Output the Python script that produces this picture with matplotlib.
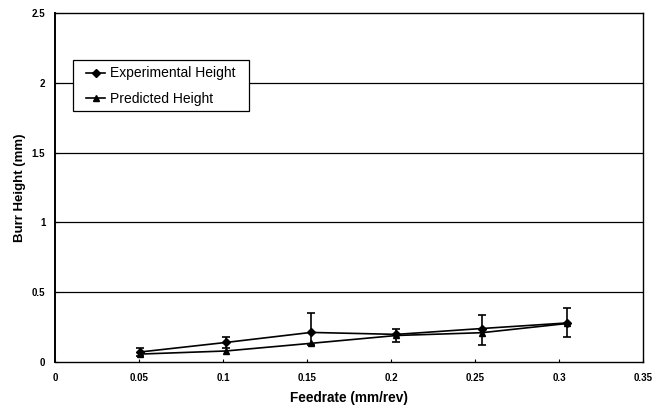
import numpy as np
import matplotlib.pyplot as plt
from matplotlib.patches import Rectangle

# feedrates (0.002 .. 0.012 in/rev converted to mm/rev)
feedrate = [0.0508, 0.1016, 0.1524, 0.2032, 0.254, 0.3048]
experimental = [0.072, 0.14, 0.212, 0.198, 0.24, 0.28]
predicted = [0.057, 0.079, 0.134, 0.19, 0.21, 0.276]
err_low = [0.03, 0.04, 0.09, 0.053, 0.12, 0.10]
err_high = [0.026, 0.04, 0.136, 0.038, 0.10, 0.108]

xticks = [0, 0.05, 0.1, 0.15, 0.2, 0.25, 0.3, 0.35]
xtick_labels = ['0', '0.05', '0.1', '0.15', '0.2', '0.25', '0.3', '0.35']
yticks = [0, 0.5, 1, 1.5, 2, 2.5]
ytick_labels = ['0', '0.5', '1', '1.5', '2', '2.5']

plt.rcParams['font.family'] = ['Liberation Sans', 'DejaVu Sans']

fig = plt.figure(figsize=(6.61, 4.08), dpi=100)
ax = fig.add_axes([0.0832, 0.1127, 0.8896, 0.8553])

for y in yticks[1:-1]:
    ax.axhline(y, color='black', lw=0.9, zorder=1)

ax.errorbar(feedrate, experimental, yerr=[err_low, err_high], fmt='none',
            ecolor='black', elinewidth=1.2, capsize=3, capthick=1.2, zorder=2)
ax.plot(feedrate, experimental, color='black', lw=1.2, marker='D', ms=4,
        label='Experimental Height', zorder=3)
ax.plot(feedrate, predicted, color='black', lw=1.2, marker='^', ms=4.5,
        label='Predicted Height', zorder=3)

ax.set_xlim(0, 0.35)
ax.set_ylim(0, 2.5)
ax.set_xticks(xticks)
ax.set_xticklabels(xtick_labels, fontsize=7, fontweight='bold')
ax.set_yticks(yticks)
ax.set_yticklabels(ytick_labels, fontsize=7, fontweight='bold')
ax.tick_params(axis='both', length=2, width=0.8, direction='in', pad=8)
ax.tick_params(axis='y', pad=7)

for s in ax.spines.values():
    s.set_linewidth(1.0)
ax.spines['left'].set_linewidth(1.4)

ax.set_xlabel('Feedrate (mm/rev)', fontsize=9.8, fontweight='bold', labelpad=6)
ax.set_ylabel('Burr Height (mm)', fontsize=9.5, fontweight='bold', labelpad=4)

# legend box drawn by hand so the padding can differ left/right and top/bottom
ax.add_patch(Rectangle((0.0306, 0.719), 0.2994, 0.146, transform=ax.transAxes,
                       facecolor='white', edgecolor='black', lw=0.9, zorder=4))
leg = ax.legend(loc='upper left', bbox_to_anchor=(0.0527, 0.847), fontsize=10,
                frameon=False, handlelength=1.4, handletextpad=0.35,
                borderpad=0, labelspacing=0.83, borderaxespad=0)
leg.set_zorder(5)

fig.savefig('out.png', dpi=100)
